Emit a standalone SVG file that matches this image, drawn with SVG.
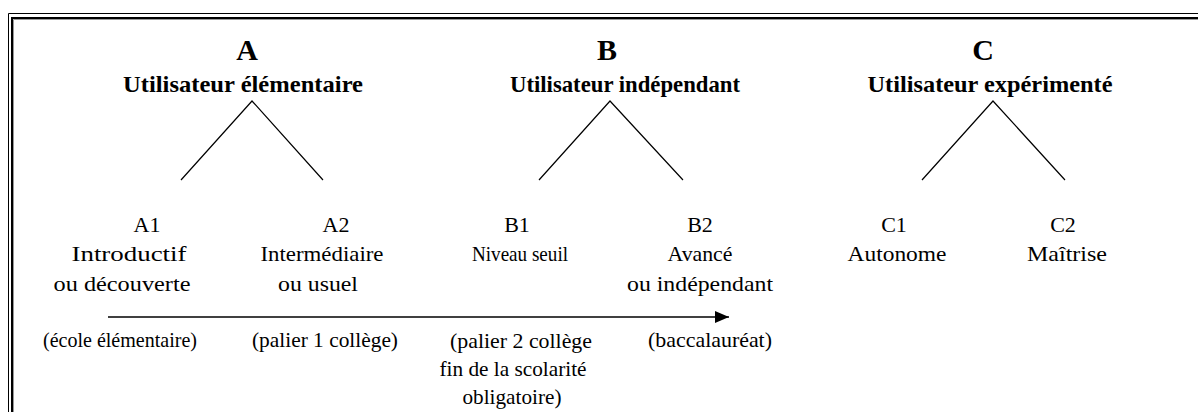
<svg xmlns="http://www.w3.org/2000/svg" width="1198" height="412" viewBox="0 0 1198 412">
<defs>
<style>
.t{font-family:"Liberation Serif","Times New Roman",serif;fill:#000;text-anchor:middle}
.h{font-size:30px;font-weight:bold}
.s{font-size:23px;font-weight:bold}
.r{font-size:22px}
.ln{stroke:#000;stroke-width:1.2;fill:none}
</style>
<marker id="ah" viewBox="0 0 14 12" refX="14" refY="6" markerWidth="14" markerHeight="12" markerUnits="userSpaceOnUse" orient="auto">
<path d="M0,0 L14,6 L0,12 Z" fill="#000"/>
</marker>
</defs>
<rect width="1198" height="412" fill="#fff"/>
<g id="frame">
<path d="M8.5,412 V13.5 H1198" stroke="#000" stroke-width="1" fill="none"/>
<path d="M12,412 V18 H1198" stroke="#000" stroke-width="2" fill="none"/>
<path d="M13.5,412 V19.5 H1198" stroke="#999" stroke-width="1" fill="none"/>
</g>
<g id="connectors">
<path class="ln" d="M181,180 L252,101 L323,180"/>
<path class="ln" d="M539,180 L610,101 L683,180"/>
<path class="ln" d="M922,180 L993,101 L1065,180"/>
<line x1="108" y1="317" x2="729" y2="317" stroke="#000" stroke-width="1.6" marker-end="url(#ah)"/>
</g>
<g id="nodeA">
<text class="t h" x="247" y="60">A</text>
<text class="t s" x="243" y="92" textLength="240" lengthAdjust="spacingAndGlyphs">Utilisateur élémentaire</text>
</g>
<g id="nodeB">
<text class="t h" x="607" y="60">B</text>
<text class="t s" x="625" y="92" textLength="230" lengthAdjust="spacingAndGlyphs">Utilisateur indépendant</text>
</g>
<g id="nodeC">
<text class="t h" x="983" y="60">C</text>
<text class="t s" x="990" y="92" textLength="245" lengthAdjust="spacingAndGlyphs">Utilisateur expérimenté</text>
</g>
<g id="nodeA1">
<text class="t r" x="147" y="232">A1</text>
<text class="t r" x="129" y="261" textLength="115" lengthAdjust="spacingAndGlyphs">Introductif</text>
<text class="t r" x="122" y="291" textLength="137" lengthAdjust="spacingAndGlyphs">ou découverte</text>
</g>
<g id="nodeA2">
<text class="t r" x="336" y="232">A2</text>
<text class="t r" x="322" y="261" textLength="123" lengthAdjust="spacingAndGlyphs">Intermédiaire</text>
<text class="t r" x="318" y="291" textLength="80" lengthAdjust="spacingAndGlyphs">ou usuel</text>
</g>
<g id="nodeB1">
<text class="t r" x="517" y="232">B1</text>
<text class="t r" x="520" y="261" textLength="96" lengthAdjust="spacingAndGlyphs">Niveau seuil</text>
</g>
<g id="nodeB2">
<text class="t r" x="700" y="232">B2</text>
<text class="t r" x="700" y="261" textLength="65" lengthAdjust="spacingAndGlyphs">Avancé</text>
<text class="t r" x="700" y="291" textLength="146" lengthAdjust="spacingAndGlyphs">ou indépendant</text>
</g>
<g id="nodeC1">
<text class="t r" x="894" y="232">C1</text>
<text class="t r" x="897" y="261" textLength="99" lengthAdjust="spacingAndGlyphs">Autonome</text>
</g>
<g id="nodeC2">
<text class="t r" x="1063" y="232">C2</text>
<text class="t r" x="1067" y="261" textLength="80" lengthAdjust="spacingAndGlyphs">Maîtrise</text>
</g>
<g id="stages">
<text class="t r" x="120" y="347" textLength="154" lengthAdjust="spacingAndGlyphs">(école élémentaire)</text>
<text class="t r" x="325" y="347" textLength="146" lengthAdjust="spacingAndGlyphs">(palier 1 collège)</text>
<text class="t r" x="521" y="348" textLength="142" lengthAdjust="spacingAndGlyphs">(palier 2 collège</text>
<text class="t r" x="513" y="376" textLength="147" lengthAdjust="spacingAndGlyphs">fin de la scolarité</text>
<text class="t r" x="512" y="404" textLength="99" lengthAdjust="spacingAndGlyphs">obligatoire)</text>
<text class="t r" x="710" y="347" textLength="124" lengthAdjust="spacingAndGlyphs">(baccalauréat)</text>
</g>
</svg>
